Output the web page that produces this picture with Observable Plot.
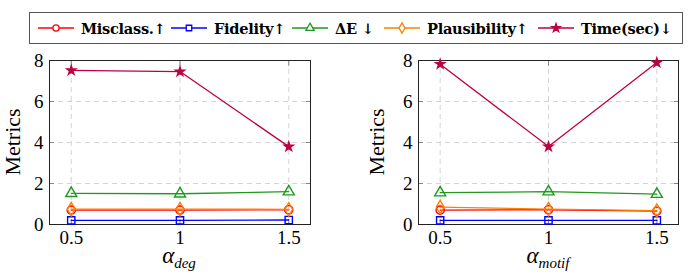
<!DOCTYPE html>
<html><head><meta charset="utf-8">
<script src="https://cdn.jsdelivr.net/npm/d3@7"></script>
<script src="https://cdn.jsdelivr.net/npm/@observablehq/plot@0.6"></script>
<style>
body{margin:0;background:#fff;font-family:"Liberation Serif",serif;}
#root{position:relative;width:689px;height:276px;overflow:hidden;}
#legend{position:absolute;left:29px;top:12px;width:652px;height:30px;border:1px solid #555;box-sizing:content-box;}
.item{position:absolute;top:0;height:30px;display:flex;align-items:center;font-family:"DejaVu Serif",serif;font-weight:bold;font-size:14.6px;white-space:nowrap;letter-spacing:-0.3px;}
.item svg{margin-right:7px;}
.panel{position:absolute;top:45px;}
svg text{font-family:"Liberation Serif",serif !important;}
.xlab{position:absolute;font-family:"Liberation Serif",serif;font-size:23px;font-style:italic;transform:translateX(-50%);white-space:nowrap;}
.xlab sub{font-size:15px;vertical-align:-5px;}
</style></head>
<body><div id="root"><div id="legend"></div></div>
<script>
const xs = [0.5, 1, 1.5];
const seriesNames = ["Misclass.↑", "Fidelity↑", "ΔE ↓", "Plausibility↑", "Time(sec)↓"];
const seriesColors = ["#ff0000", "#0000ff", "#1f9a1f", "#ff8000", "#bf0040"];
const seriesSymbols = ["circle", "square", "triangle", "diamond", "star"];
const yTicks = [0, 2, 4, 6, 8];

// left panel: alpha_deg
const degMisclass = [0.70, 0.70, 0.72];
const degFidelity = [0.20, 0.20, 0.22];
const degDeltaE = [1.52, 1.50, 1.60];
const degPlaus = [0.75, 0.75, 0.74];
const degTime = [7.52, 7.46, 3.80];

// right panel: alpha_motif
const motMisclass = [0.70, 0.72, 0.65];
const motFidelity = [0.20, 0.20, 0.20];
const motDeltaE = [1.55, 1.60, 1.48];
const motPlaus = [0.85, 0.75, 0.68];
const motTime = [7.82, 3.80, 7.90];

function rows(arrs){
  const out=[];
  arrs.forEach((a,si)=>a.forEach((v,i)=>out.push({s:seriesNames[si], si, x:xs[i], y:v})));
  return out;
}

function panel(data, opts){
  const marks=[
    Plot.gridX(xs,{stroke:"#d4d4d4",strokeOpacity:1,strokeDasharray:"5,4"}),
    Plot.gridY(yTicks,{stroke:"#d4d4d4",strokeOpacity:1,strokeDasharray:"5,4"}),
    Plot.axisY(yTicks,{anchor:"left",tickSize:-5,stroke:"#888",fontSize:19,tickPadding:11,label:null}),
    Plot.axisY(yTicks,{anchor:"right",tickSize:-5,stroke:"#888",tickFormat:()=>"",label:null}),
    Plot.axisX(xs,{anchor:"bottom",tickSize:-5,stroke:"#888",fontSize:19,tickPadding:11,tickFormat:d=>String(d),label:null}),
    Plot.axisX(xs,{anchor:"top",tickSize:-5,stroke:"#888",tickFormat:()=>"",label:null}),
    Plot.frame({stroke:"#222",strokeWidth:1})
  ];
  seriesNames.forEach((n,si)=>{
    const d=data.filter(r=>r.si===si);
    marks.push(Plot.line(d,{x:"x",y:"y",stroke:seriesColors[si],strokeWidth:1.3}));
    const star = seriesSymbols[si]==="star";
    marks.push(Plot.dot(d,{x:"x",y:"y",symbol:()=>seriesSymbols[si],stroke:seriesColors[si],fill:star?seriesColors[si]:"white",fillOpacity:star?1:0,strokeWidth:1.4,r:star?2.8:4.1}));
  });
  return Plot.plot({
    width:opts.width,height:231,marginLeft:opts.ml,marginRight:opts.mr,marginTop:15,marginBottom:52,
    style:{fontFamily:"Liberation Serif, serif",fontSize:"19px",color:"#000",background:"white"},
    x:{domain:[0.4,1.6],label:null},
    y:{domain:[0,8],label:null},
    symbol:{type:"identity"},
    marks
  });
}

const root=document.getElementById("root");
function addPanel(data,left,opts,ylabX,xlabHtml,xlabX){
  const svg=panel(data,opts);
  const div=document.createElement("div");
  div.className="panel";div.style.left=left+"px";
  div.appendChild(svg);root.appendChild(div);
  d3.select(svg).append("text").attr("transform",`translate(${ylabX},97) rotate(-90)`)
    .attr("text-anchor","middle").attr("font-size",22).attr("fill","#000").text("Metrics");
  const xl=document.createElement("div");
  xl.className="xlab";xl.style.left=xlabX+"px";xl.style.top="243px";
  xl.innerHTML=xlabHtml;root.appendChild(xl);
}
addPanel(rows([degMisclass,degFidelity,degDeltaE,degPlaus,degTime]),0,{width:345,ml:49,mr:35},20,"α<sub>deg</sub>",179);
addPanel(rows([motMisclass,motFidelity,motDeltaE,motPlaus,motTime]),345,{width:344,ml:73,mr:11},39,"α<sub>motif</sub>",548);

// legend
const legendX=[8,141,262,354,508];
const leg=document.getElementById("legend");
const symMap={circle:d3.symbolCircle,square:d3.symbolSquare,triangle:d3.symbolTriangle,diamond:d3.symbolDiamond,star:d3.symbolStar};
seriesNames.forEach((n,si)=>{
  const it=document.createElement("div");it.className="item";it.style.left=legendX[si]+"px";
  const s=d3.create("svg").attr("width",36).attr("height",14);
  s.append("line").attr("x1",0).attr("x2",36).attr("y1",7).attr("y2",7).attr("stroke",seriesColors[si]).attr("stroke-width",1.3);
  const star=seriesSymbols[si]==="star";
  s.append("path").attr("transform","translate(18,7)").attr("d",d3.symbol(symMap[seriesSymbols[si]],star?22:30)())
    .attr("fill",star?seriesColors[si]:"white").attr("stroke",seriesColors[si]).attr("stroke-width",1.3);
  it.appendChild(s.node());
  const t=document.createElement("span");t.textContent=n;it.appendChild(t);
  leg.appendChild(it);
});
</script></body></html>
